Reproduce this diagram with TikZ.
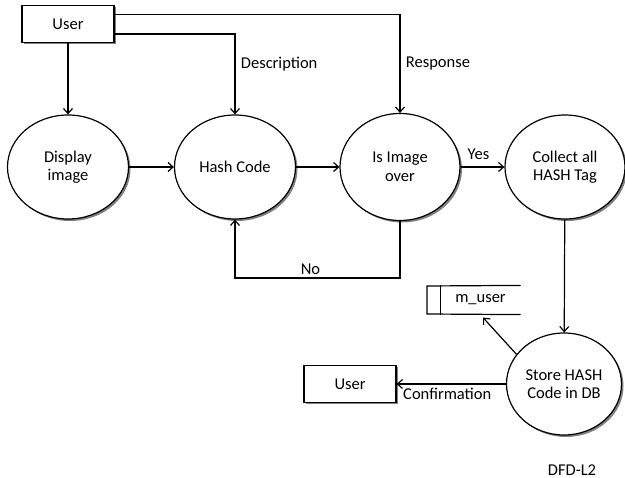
\documentclass[tikz,border=0pt]{standalone}
\usepackage{fontspec}
\setmainfont{Carlito}
\usetikzlibrary{shapes,shadows,arrows.meta}

\begin{document}
\begin{tikzpicture}[x=1pt,y=-1pt,line width=1.2pt,
    font=\fontsize{16.5}{18.5}\selectfont,
    >={Straight Barb[length=5pt,width=9pt]},
    dshadow/.style={drop shadow={shadow xshift=2pt,shadow yshift=-2pt,fill=black!50,opacity=1}},
    proc/.style={ellipse,draw,fill=white,align=center,inner sep=0pt,
        minimum width=121pt,minimum height=104pt,dshadow},
    extent/.style={rectangle,draw,fill=white,minimum width=92pt,minimum height=37pt,dshadow}]
    \useasboundingbox (0,0) rectangle (625,478);
    % external entities
    \node[extent] (user) at (68,24) {User};
    \node[extent] (user2) at (350,384) {User};
    % processes
    \node[proc] (disp) at (68,167) {Display\\image};
    \node[proc] (hash) at (235,167) {Hash Code};
    \node[proc,minimum width=120pt,minimum height=107pt] (over) at (400,167) {Is Image\\over};
    \node[proc,minimum width=120pt] (coll) at (565,167) {Collect all\\HASH Tag};
    \node[proc,minimum width=115pt,minimum height=102pt] (store) at (564,384) {Store HASH\\Code in DB};
    % data store
    \node[minimum width=79pt,minimum height=28pt] (muser) at (480.5,300) {m\_user};
    \draw (muser.north east) -- (427,286) -- (427,314) -- (muser.south east);
    \draw (muser.north west) -- (muser.south west);
    % flows
    \draw[->] (user) -- (disp);
    \draw[->] ([yshift=9.5pt]user.east) -| node[pos=0.75,right,xshift=2pt] {Response} (over);
    \draw[->] ([yshift=-10pt]user.east) -| node[pos=0.69,right,xshift=2pt] {Description} (hash);
    \draw[->] (disp) -- (hash);
    \draw[->] (hash) -- (over);
    \draw[->] (over) -- node[above=3pt,xshift=-4pt] {Yes} (coll);
    \draw[->] (over.south) -- ++(0,57) -| node[pos=0.25,above,xshift=-7pt] {No} (hash.south);
    \draw[->] (coll) -- (store);
    \draw[->] (store.148) -- ([xshift=3pt,yshift=-3pt]muser.south west -| 480,0);
    \draw[->] (store.west) -- node[below,xshift=-4pt] {Confirmation} (user2.east);
    \node (lvl) at (572,470) {DFD-L2};
\end{tikzpicture}
\end{document}
